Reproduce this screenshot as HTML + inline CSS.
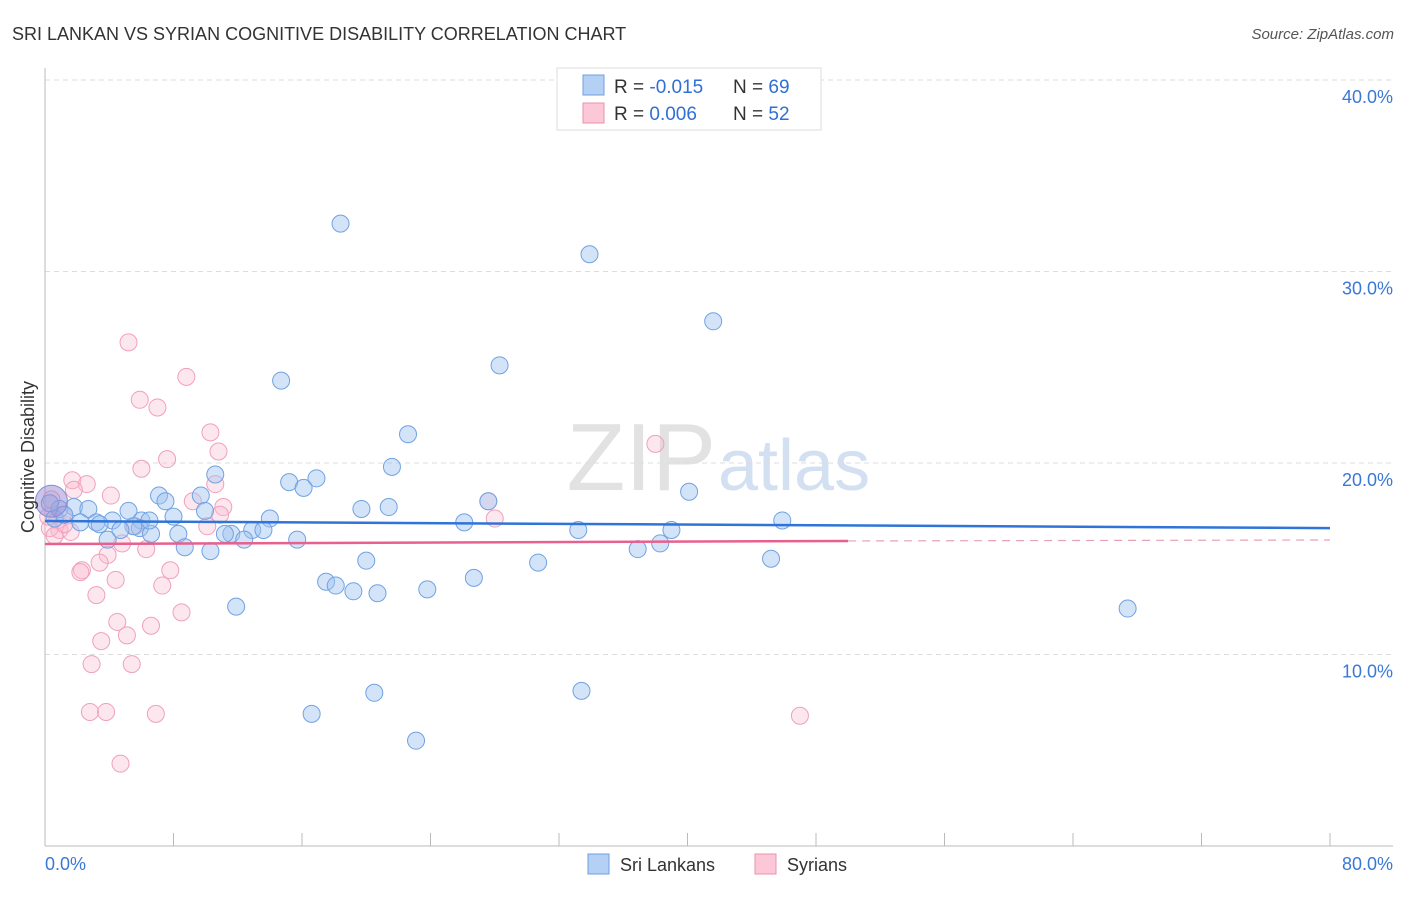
<!DOCTYPE html>
<html><head><meta charset="utf-8"><style>
body{margin:0;background:#fff;font-family:"Liberation Sans",sans-serif;}
svg text{font-family:"Liberation Sans",sans-serif;}
</style></head><body>
<svg id="chart" width="1406" height="892" xmlns="http://www.w3.org/2000/svg">
<text x="12" y="40" font-size="18" fill="#333">SRI LANKAN VS SYRIAN COGNITIVE DISABILITY CORRELATION CHART</text>
<text x="1394" y="39" font-size="15" fill="#555" font-style="italic" text-anchor="end">Source: ZipAtlas.com</text>
<text x="716" y="490" font-size="96" fill="#e2e2e2" text-anchor="end" font-family="Liberation Serif">ZIP</text>
<text x="718" y="490" font-size="72" fill="#d2e0f2">atlas</text>
<g id="grid"></g>
<g id="axes"></g>
<g id="pts"></g>
<g id="trend"></g>
<text transform="translate(34,457) rotate(-90)" font-size="18" fill="#333" text-anchor="middle">Cognitive Disability</text>
<g>
<rect x="557" y="68" width="264" height="62" fill="#fff" stroke="#ddd"/>
<rect x="583" y="75" width="21" height="20" fill="#b5d0f5" stroke="#6fa0e0"/>
<rect x="583" y="103" width="21" height="20" fill="#fcc8d8" stroke="#ec8fae"/>
<text x="614" y="93" font-size="19" fill="#333">R = <tspan fill="#2f6fd6">-0.015</tspan></text>
<text x="733" y="93" font-size="19" fill="#333">N = <tspan fill="#2f6fd6">69</tspan></text>
<text x="614" y="120" font-size="19" fill="#333">R = <tspan fill="#2f6fd6"> 0.006</tspan></text>
<text x="733" y="120" font-size="19" fill="#333">N = <tspan fill="#2f6fd6">52</tspan></text>
</g>
<g>
<rect x="588" y="854" width="21" height="20" fill="#b5d0f5" stroke="#6fa0e0"/>
<text x="620" y="871" font-size="18" fill="#333">Sri Lankans</text>
<rect x="755" y="854" width="21" height="20" fill="#fcc8d8" stroke="#ec8fae"/>
<text x="787" y="871" font-size="18" fill="#333">Syrians</text>
</g>
</svg>
<script>
const xTicks=[0,80];
const yTicks=[10,20,30,40];
const blueX=[18.4,33.9,41.6,28.3,14.7,22.6,21.6,10.6,16.9,15.2,16.1,40.1,7.1,9.7,7.5,27.6,19.7,21.4,1.8,2.7,5.2,9.96,8.0,45.9,14.0,26.1,3.2,4.2,6.0,5.9,5.5,33.2,39.0,8.3,6.6,11.6,11.2,12.9,13.6,12.4,3.9,15.7,8.7,38.3,36.9,10.3,20.0,45.2,30.7,26.7,17.5,18.1,19.2,20.7,23.8,11.9,67.4,20.5,33.4,16.6,23.1,0.6,0.9,1.2,3.4,6.5,4.7,2.2,0.3];
const blueY=[32.5,30.9,27.4,25.1,24.3,21.5,19.8,19.4,19.2,19.0,18.7,18.5,18.3,18.3,18.0,18.0,17.6,17.7,17.7,17.6,17.5,17.5,17.2,17.0,17.1,16.9,16.9,17.0,17.0,16.6,16.7,16.5,16.5,16.3,16.3,16.3,16.3,16.5,16.5,16.0,16.0,16.0,15.6,15.8,15.5,15.4,14.9,15.0,14.8,14.0,13.8,13.6,13.3,13.2,13.4,12.5,12.4,8.0,8.1,6.9,5.5,17.1,17.6,17.3,16.8,17.0,16.5,16.9,17.9];
const pinkX=[5.2,8.8,5.9,7.0,10.3,10.8,38.0,7.6,6.0,1.7,2.6,1.8,4.1,9.2,27.6,10.6,11.1,10.9,28.0,10.1,5.6,0.75,0.9,1.6,0.3,0.6,4.8,6.3,3.9,3.4,2.3,2.2,7.8,4.4,7.3,3.2,8.5,4.5,6.6,5.1,3.5,2.9,5.4,2.8,3.8,6.9,47.0,4.7,1.2,0.2,0.4,1.1];
const pinkY=[26.3,24.5,23.3,22.9,21.6,20.6,21.0,20.2,19.7,19.1,18.9,18.6,18.3,18.0,18.0,18.9,17.7,17.3,17.1,16.7,16.7,17.0,16.5,16.4,16.6,16.2,15.8,15.5,15.2,14.8,14.4,14.3,14.4,13.9,13.6,13.1,12.2,11.7,11.5,11.0,10.7,9.5,9.5,7.0,7.0,6.9,6.8,4.3,16.8,17.2,18.1,17.3];
const blueTrend=[16.97,16.6];
const pinkTrend=[15.77,15.93,15.98];
const X=v=>45+v*1285/80, Y=v=>846-v*19.15;
const NS='http://www.w3.org/2000/svg';
function mk(t,a,p){const e=document.createElementNS(NS,t);for(const k in a)e.setAttribute(k,a[k]);p.appendChild(e);return e;}
const grid=document.getElementById('grid'),axes=document.getElementById('axes');
yTicks.forEach(v=>{
 const l=mk('line',{x1:45,x2:1393,y1:Y(v),y2:Y(v),stroke:'#ddd','stroke-dasharray':'5,4'},grid);
 
 
 const t=mk('text',{x:1393,y:Y(v)+23,'font-size':18,fill:'#3a78d6','text-anchor':'end'},grid);
 t.textContent=v.toFixed(1)+'%';
 
 
});
mk('line',{x1:45,x2:45,y1:68,y2:846,stroke:'#bbb'},axes);
mk('line',{x1:45,x2:1393,y1:846,y2:846,stroke:'#bbb'},axes);
for(let i=0;i<=10;i++){mk('line',{x1:X(i*8),x2:X(i*8),y1:833,y2:846,stroke:'#bbb'},axes);}
xTicks.forEach((v,i)=>{
 const t=mk('text',{x:i?1393:45,y:870,'font-size':18,fill:'#3a78d6','text-anchor':i?'end':'start'},axes);
 t.textContent=v.toFixed(1)+'%';
 
 
});
const pts=document.getElementById('pts');
pinkX.forEach((x,i)=>{
 const c=mk('circle',{cx:X(x),cy:Y(pinkY[i]),r:8.5,fill:'rgba(248,185,205,0.35)',stroke:'#f0a0bb','stroke-width':1},pts);
 
 
});
blueX.forEach((x,i)=>{
 const c=mk('circle',{cx:X(x),cy:Y(blueY[i]),r:8.5,fill:'rgba(160,196,240,0.45)',stroke:'#70a2e2','stroke-width':1},pts);
 
 
});
const big=mk('circle',{cx:X(0.4),cy:Y(18),r:16,fill:'rgba(150,140,210,0.5)',stroke:'#8a8ad8'},pts);


const tr=document.getElementById('trend');
const bl=mk('line',{x1:X(0),x2:X(80),y1:Y(blueTrend[0]),y2:Y(blueTrend[1]),stroke:'#2f74d8','stroke-width':2.5},tr);


const pl=mk('line',{x1:X(0),x2:X(50),y1:Y(pinkTrend[0]),y2:Y(pinkTrend[1]),stroke:'#e8608e','stroke-width':2.5},tr);


const pd=mk('line',{x1:X(50),x2:X(80),y1:Y(pinkTrend[1]),y2:Y(pinkTrend[2]),stroke:'#e8a0b8','stroke-width':1.2,'stroke-dasharray':'8,6'},tr);


</script>
</body></html>
